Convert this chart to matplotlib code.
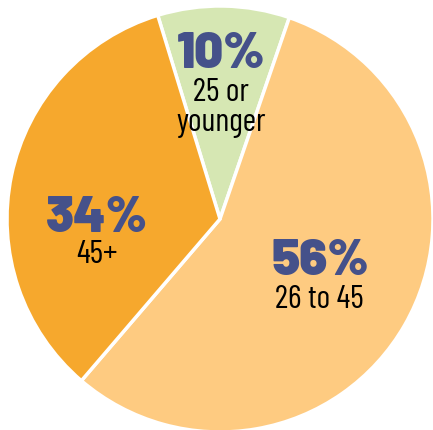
import matplotlib
matplotlib.use("Agg")
import matplotlib.pyplot as plt

labels = ["25 or\nyounger", "26 to 45", "45+"]
values = [10, 56, 34]
pct_labels = ["10%", "56%", "34%"]
colors = ["#d6e7b3", "#fecb81", "#f6a82d"]

W, H = 433, 430
fig = plt.figure(figsize=(W / 100, H / 100), dpi=100)
ax = fig.add_axes([0, 0, 1, 1])

cx, cy, r = 220, H - 219, 213
ax.pie(values, colors=colors, startangle=107, counterclock=False,
       center=(cx, cy), radius=r, frame=True,
       wedgeprops=dict(edgecolor="white", linewidth=2.5))
ax.set_xlim(0, W)
ax.set_ylim(0, H)
ax.set_aspect("equal")
ax.axis("off")

pct_font = dict(family=["Barlow", "DejaVu Sans"], fontweight=900, fontsize=36.5, color="#45518a")
lab_font = dict(family=["Barlow Condensed", "DejaVu Sans"], fontweight=400, fontsize=23.5, color="black")

# (x center, baseline y in image pixels)
pct_pos = [(221, 68), (320, 275), (97, 232)]
lab_pos = [(221, 101), (319, 308), (97, 263)]
for p, l, pp, lp in zip(pct_labels, labels, pct_pos, lab_pos):
    ax.text(pp[0], H - pp[1], p, ha="center", va="baseline", **pct_font)
    for i, line in enumerate(l.split("\n")):
        ax.text(lp[0], H - (lp[1] + 30 * i), line, ha="center", va="baseline", **lab_font)

fig.savefig("out.png", dpi=100)
